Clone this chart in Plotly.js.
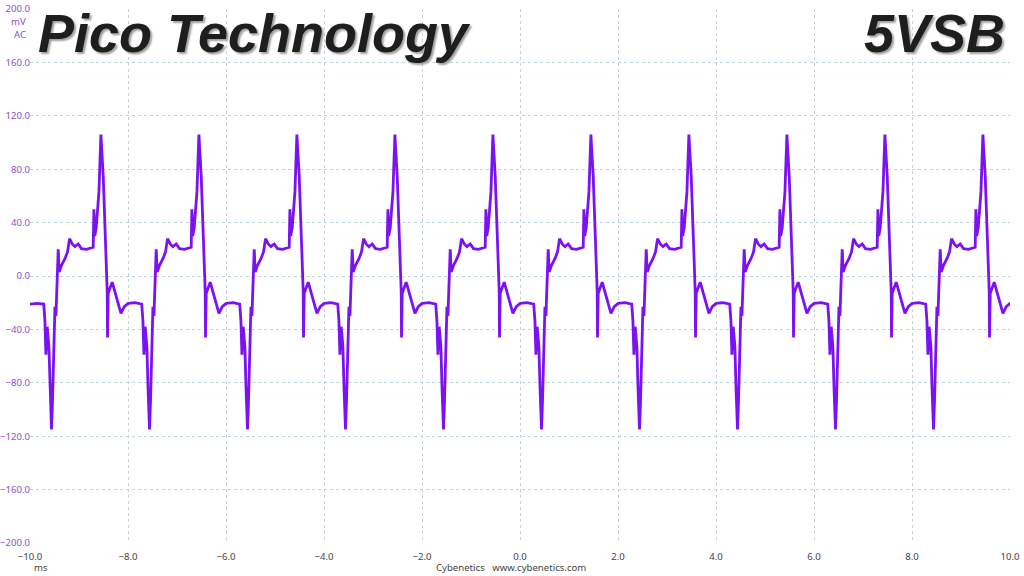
<!DOCTYPE html>
<html>
<head>
<meta charset="utf-8">
<script src="https://cdn.plot.ly/plotly-3.0.1.min.js"></script>
<style>
  html, body { margin: 0; padding: 0; background: #fff; }
  #chart { width: 1024px; height: 576px; }
</style>
</head>
<body>
<div id="chart"></div>
<script>
// one ripple cycle (ms after the falling edge, mV)
const cycleOffsetMs = [0.000, 0.024, 0.045, 0.071, 0.106, 0.127, 0.159, 0.180, 0.208, 0.229,
                       0.249, 0.282, 0.296, 0.316, 0.363, 0.433, 0.486, 0.527, 0.582, 0.637,
                       0.704, 0.771, 0.873, 1.010, 1.024, 1.041, 1.071, 1.127, 1.167, 1.214,
                       1.249, 1.296, 1.302, 1.316, 1.398, 1.480, 1.576, 1.643, 1.724, 1.867];
const cycleMv = [-21, -33, -59, -38, -53, -82, -115, -93, -36, -23,
                 -30, -3, 20, 3, 8, 13, 18, 28, 24, 22,
                 24, 20.5, 20, 21.5, 50, 30, 36, 63, 106, 75,
                 38, -12, -46, -13, -4.6, -16, -28, -23, -20.5, -20];

// start of each cycle on the time axis
const cycleStartMs = [-9.72, -7.72, -5.72, -3.72, -1.72, 0.28, 2.28, 4.28, 6.28, 8.28];

// flat part before the first cycle
const leadMs = [-10.0, -9.85];
const leadMv = [-21, -20.5];

const xTicks = [-10, -8, -6, -4, -2, 0, 2, 4, 6, 8, 10];
const yTicks = [-200, -160, -120, -80, -40, 0, 40, 80, 120, 160, 200];

function buildTrace() {

    let x = leadMs.slice();
    let y = leadMv.slice();

    for(let start of cycleStartMs) {

        for(let i = 0; i < cycleOffsetMs.length; i++) {

            x.push(start + cycleOffsetMs[i]);
            y.push(cycleMv[i]);

        }

    }

    return {x: x, y: y};

}

let pts = buildTrace();

let ripple = {
    x: pts.x,
    y: pts.y,
    type: 'scatter',
    mode: 'lines',
    line: {color: '#7b12f2', width: 2.8},
    hoverinfo: 'skip'
};

let gridCol = 'rgb(188,212,218)';
let labelFont = {family: '"Noto Sans", "Open Sans", sans-serif', size: 9.6};
let bigFont = {
    family: '"Liberation Sans", Arial, sans-serif',
    size: 54,
    color: '#1e1e1e',
    weight: 700,
    style: 'italic',
    shadow: '2px 2px 2px #a0a0a0'
};

let layout = {
    width: 1024,
    height: 576,
    margin: {l: 30, r: 14, t: 9, b: 33},
    paper_bgcolor: '#ffffff',
    plot_bgcolor: '#ffffff',
    showlegend: false,
    xaxis: {
        range: [-10, 10],
        tickvals: xTicks,
        tickformat: '.1f',
        showgrid: true,
        gridcolor: gridCol,
        griddash: '3px,3px',
        gridwidth: 1,
        zeroline: false,
        showline: false,
        ticks: '',
        ticklabelstandoff: 6,
        tickfont: Object.assign({color: '#444444'}, labelFont)
    },
    yaxis: {
        range: [-200, 200],
        tickvals: yTicks,
        tickformat: '.1f',
        showgrid: true,
        gridcolor: gridCol,
        griddash: '3px,3px',
        gridwidth: 1,
        zeroline: false,
        showline: false,
        ticks: '',
        ticklabelstandoff: -1,
        tickfont: Object.assign({color: '#8a52c6'}, labelFont)
    },
    annotations: [
        {
            text: 'Pico Technology', xref: 'paper', yref: 'paper',
            x: 0.006, y: 1, xanchor: 'left', yanchor: 'top', yshift: 8,
            showarrow: false, font: bigFont
        },
        {
            text: '5VSB', xref: 'paper', yref: 'paper',
            x: 0.997, y: 1, xanchor: 'right', yanchor: 'top', yshift: 8,
            showarrow: false, font: bigFont
        },
        {
            text: 'mV', xref: 'paper', yref: 'paper', x: 0, y: 1,
            xanchor: 'right', yanchor: 'middle', xshift: -2, yshift: -12,
            showarrow: false, font: Object.assign({color: '#8a52c6'}, labelFont)
        },
        {
            text: 'AC', xref: 'paper', yref: 'paper', x: 0, y: 1,
            xanchor: 'right', yanchor: 'middle', xshift: -2, yshift: -25,
            showarrow: false, font: Object.assign({color: '#8a52c6'}, labelFont)
        },
        {
            text: 'ms', xref: 'paper', yref: 'paper', x: 0, y: 0,
            xanchor: 'left', yanchor: 'middle', xshift: 2, yshift: -24,
            showarrow: false, font: Object.assign({color: '#444444'}, labelFont)
        },
        {
            text: 'Cybenetics&nbsp;&nbsp;&nbsp;www.cybenetics.com', xref: 'paper', yref: 'paper',
            x: 0.491, y: 0, xanchor: 'center', yanchor: 'middle', yshift: -24,
            showarrow: false, font: Object.assign({color: '#444444'}, labelFont)
        }
    ]
};

Plotly.newPlot('chart', [ripple], layout, {displayModeBar: false, staticPlot: true});
</script>
</body>
</html>
